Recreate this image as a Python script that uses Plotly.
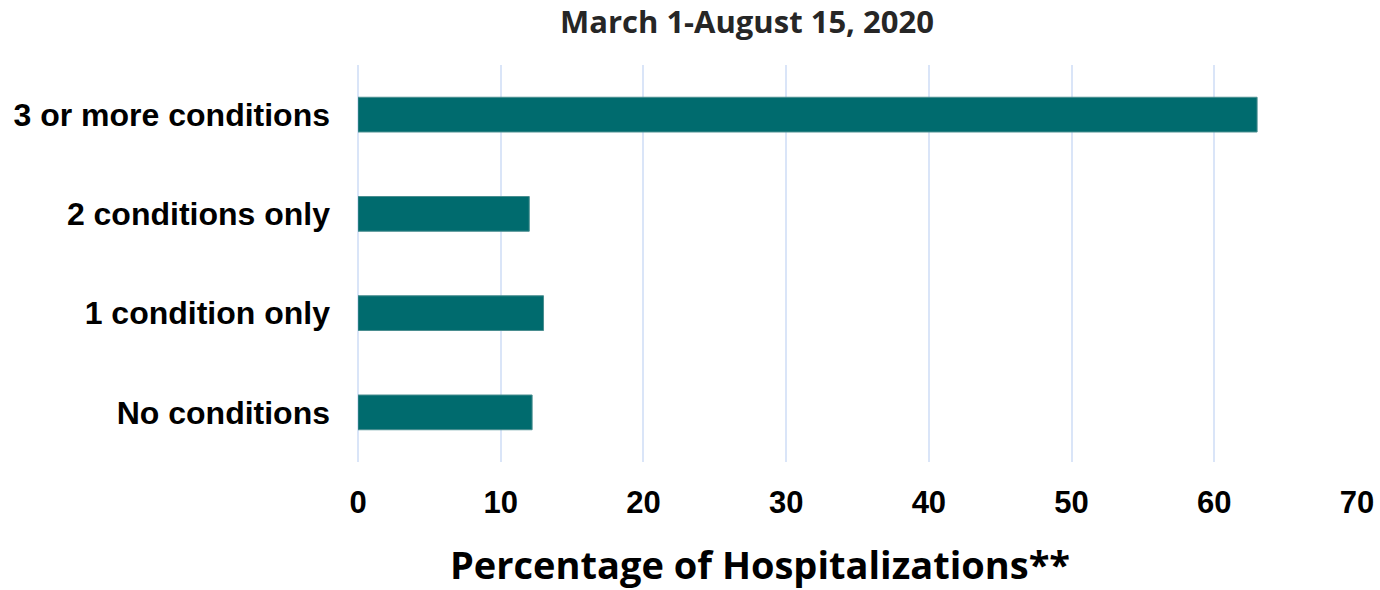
import plotly.graph_objects as go

categories = ["No conditions", "1 condition only", "2 conditions only", "3 or more conditions"]
values = [12.2, 13.0, 12.0, 63.0]
x_ticks = [0, 10, 20, 30, 40, 50, 60, 70]

L, R, T, B = 358, 23, 65, 128
W, H = 1380, 590
pw, ph = W - L - R, H - T - B

fig = go.Figure(go.Bar(
    x=values, y=categories, orientation="h",
    marker=dict(color="#006B6E", line=dict(color="#4A8E90", width=1)),
    width=0.35,
))

fig.update_layout(
    width=W, height=H,
    margin=dict(l=L, r=R, t=T, b=B, autoexpand=False),
    plot_bgcolor="white", paper_bgcolor="white",
    showlegend=False,
    bargap=0.65,
)
fig.update_xaxes(
    range=[0, 70], tickvals=x_ticks, ticktext=[str(v) for v in x_ticks],
    showgrid=True, gridcolor="#DAE5F8", gridwidth=2,
    zeroline=True, zerolinecolor="#DAE5F8", zerolinewidth=2,
    showline=False, ticks="",
    tickfont=dict(family="Liberation Sans, Arial", size=31, color="black", weight="bold"),
    ticklabelstandoff=19,
)
fig.update_yaxes(
    showgrid=False, zeroline=False, showline=False, ticks="",
    tickfont=dict(family="Liberation Sans, Arial", size=32, color="black", weight="bold"),
    ticklabelstandoff=27,
)

def px_to_paper(xp, yp):
    return (xp - L) / pw, (H - B - yp) / ph

tx, ty = px_to_paper(747, 21)
fig.add_annotation(
    text="<b>March 1-August 15, 2020</b>", x=tx, y=ty, xref="paper", yref="paper",
    xanchor="center", yanchor="middle", showarrow=False,
    font=dict(family="Open Sans", size=31, color="#262626"),
)
ax, ay = px_to_paper(760, 564)
fig.add_annotation(
    text="<b>Percentage of Hospitalizations**</b>", x=ax, y=ay, xref="paper", yref="paper",
    xanchor="center", yanchor="middle", showarrow=False,
    font=dict(family="Open Sans", size=38, color="black"),
)

fig.write_html(
    "out.html",
    config={"displayModeBar": False},
    post_script="document.body.style.margin='0';document.body.style.overflow='hidden';",
)
